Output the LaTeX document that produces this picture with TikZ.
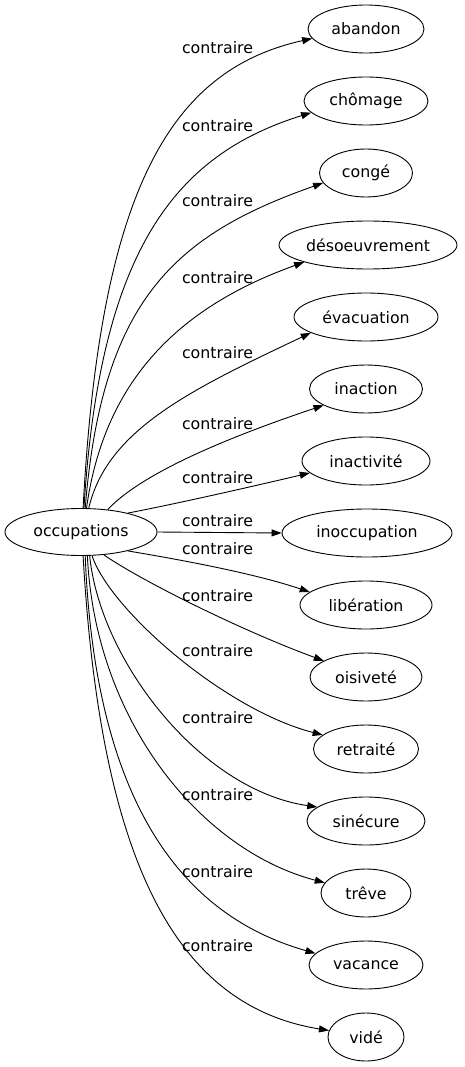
\documentclass[tikz,border=0pt]{standalone}
\usepackage{fontspec}
\setmainfont{DejaVu Sans}
\usetikzlibrary{shapes.geometric,arrows.meta}
\begin{document}
\begin{tikzpicture}[x=1pt,y=-1pt,
  word/.style={draw, ellipse, inner sep=0pt, minimum height=48pt, line width=0.9pt,
    font=\fontsize{15.8}{18}\selectfont},
  rel/.style={-{Triangle[length=10pt,width=7pt]}, line width=0.9pt},
  lbl/.style={inner sep=0pt, font=\fontsize{15.8}{18}\selectfont}]
\useasboundingbox (0,0) rectangle (465,1067);
% nodes
\node[word, minimum width=152pt, minimum height=47pt] (occ) at (81,532) {occupations};
\node[word, minimum width=116pt] (abandon) at (366,29) {abandon};
\node[word, minimum width=124pt] (chomage) at (366,101) {chômage};
\node[word, minimum width=93pt] (conge) at (366,173) {congé};
\node[word, minimum width=178pt] (desoeuvrement) at (368,245) {désoeuvrement};
\node[word, minimum width=144pt] (evacuation) at (366,317) {évacuation};
\node[word, minimum width=113pt] (inaction) at (366,389) {inaction};
\node[word, minimum width=128pt] (inactivite) at (366,461) {inactivité};
\node[word, minimum width=170pt] (inoccupation) at (367,533) {inoccupation};
\node[word, minimum width=132pt] (liberation) at (366,605) {libération};
\node[word, minimum width=112pt] (oisivete) at (366,677) {oisiveté};
\node[word, minimum width=105pt] (retraite) at (366,749) {retraité};
\node[word, minimum width=118pt] (sinecure) at (366,821) {sinécure};
\node[word, minimum width=90pt] (treve) at (366,893) {trêve};
\node[word, minimum width=114pt] (vacance) at (366,965) {vacance};
\node[word, minimum width=76pt] (vide) at (366,1037) {vidé};
% labels
\node[lbl] (l1) at (217.5,48) {contraire};
\node[lbl] (l2) at (217.5,126) {contraire};
\node[lbl] (l3) at (217.5,201) {contraire};
\node[lbl] (l4) at (217.5,278) {contraire};
\node[lbl] (l5) at (217.5,353) {contraire};
\node[lbl] (l6) at (217.5,424) {contraire};
\node[lbl] (l7) at (217.5,478) {contraire};
\node[lbl] (l8) at (217.5,521) {contraire};
\node[lbl] (l9) at (217.5,549) {contraire};
\node[lbl] (l10) at (217.5,596) {contraire};
\node[lbl] (l11) at (217.5,651) {contraire};
\node[lbl] (l12) at (217.5,718) {contraire};
\node[lbl] (l13) at (217.5,795) {contraire};
\node[lbl] (l14) at (217.5,872) {contraire};
\node[lbl] (l15) at (217.5,946) {contraire};
% edges
\draw[rel] (occ.85) .. controls (100,190) and (170,70) .. (abandon.190);
\draw[rel] (occ.83) .. controls (100,250) and (175,155) .. (chomage.192);
\draw[rel] (occ.80) .. controls (102,300) and (175,235) .. (conge.193);
\draw[rel] (occ.77) .. controls (105,375) and (185,305) .. (desoeuvrement.195);
\draw[rel] (occ.72) .. controls (107,430) and (190,390) .. (evacuation.196);
\draw[rel] (occ.40) .. controls (140,475) and (220,440) .. (inaction.201);
\draw[rel] (occ.22) .. controls (180,503) and (250,487) .. (inactivite.192);
\draw[rel] (occ.east) -- (inoccupation.west);
\draw[rel] (occ.-22) .. controls (170,558) and (250,572) .. (liberation.167);
\draw[rel] (occ.-45) .. controls (140,580) and (240,630) .. (oisivete.159);
\draw[rel] (occ.-65) .. controls (110,610) and (225,710) .. (retraite.162);
\draw[rel] (occ.-70) .. controls (100,660) and (200,790) .. (sinecure.164);
\draw[rel] (occ.-75) .. controls (95,720) and (200,850) .. (treve.166);
\draw[rel] (occ.-80) .. controls (95,800) and (180,915) .. (vacance.167);
\draw[rel] (occ.-85) .. controls (100,850) and (170,1005) .. (vide.170);
\end{tikzpicture}
\end{document}
